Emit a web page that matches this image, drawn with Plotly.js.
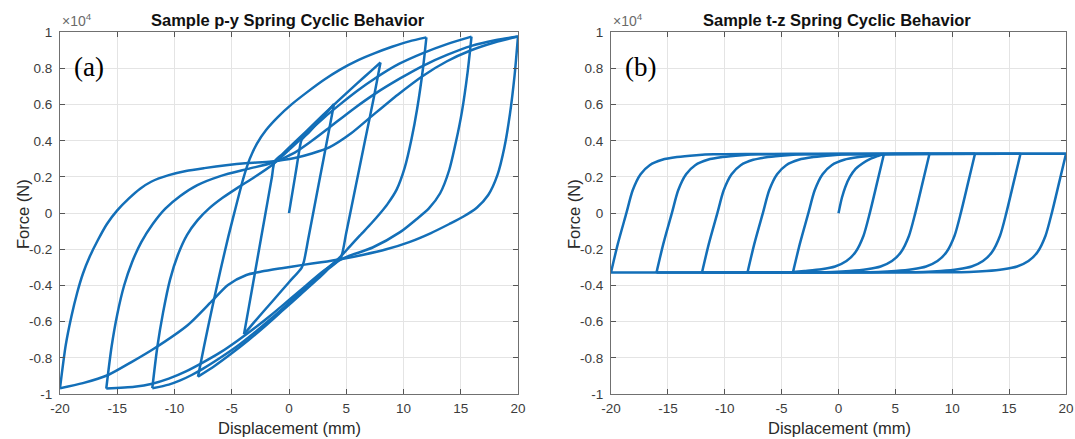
<!DOCTYPE html>
<html>
<head>
<meta charset="utf-8">
<script src="https://cdn.plot.ly/plotly-3.0.1.min.js"></script>
<style>html,body{margin:0;padding:0;background:#fff;}#chart{width:1075px;height:439px;}</style>
</head>
<body>
<div id="chart"></div>
<script>
// ---------- Tick labels ----------
const xTickVals = [-20, -15, -10, -5, 0, 5, 10, 15, 20];
const xTickText = ['-20', '-15', '-10', '-5', '0', '5', '10', '15', '20'];
const yTickVals = [-10000, -8000, -6000, -4000, -2000, 0, 2000, 4000, 6000, 8000, 10000];
const yTickText = ['-1', '-0.8', '-0.6', '-0.4', '-0.2', '0', '0.2', '0.4', '0.6', '0.8', '1'];

// ---------- (a) p-y spring: displacement (mm) / force (N), branch by branch ----------
// 0 -> +4
const py1x = [0, 0.55, 1.0, 1.1, 1.8, 2.6, 3.3, 3.93];
const py1F = [0, 2100, 3820, 4050, 4500, 5080, 5580, 6030];
// +4 -> -4
const py2x = [3.93, 3.5, 2.6, 1.7, 1.3, 1.1, 0, -1.5, -3.0, -3.93];
const py2F = [6030, 4600, 1620, -1360, -2680, -3020, -3820, -4910, -6000, -6700];
// -4 -> +8
const py3x = [-3.93, -3.5, -2.8, -2.1, -1.5, -1.25, -0.6, 0.3, 1.5, 3.0, 4.5, 6.0, 7.2, 7.99];
const py3F = [-6700, -5170, -2670, -170, 1970, 2860, 3250, 3800, 4520, 5440, 6330, 7200, 7880, 8330];
// +8 -> -8
const py4x = [7.99, 7.4, 6.6, 5.8, 5.0, 4.5, 3.5, 2.5, 1.0, -0.5, -2.0, -3.5, -5.0, -6.5, -7.95];
const py4F = [8330, 6370, 3890, 1400, -1080, -2500, -3050, -3650, -4500, -5350, -6200, -7000, -7750, -8450, -9040];
// -8 -> +12
const py5x = [-7.95, -7.4, -6.7, -6.0, -5.3, -4.6, -4.0, -3.43, -2.8, -2.0, -1.0, 0.2, 1.5, 3.0, 4.5, 6.0, 7.5, 9.0, 10.5, 12.0];
const py5F = [-9040, -7300, -5200, -3200, -1300, 450, 1900, 3000, 3850, 4600, 5300, 6000, 6650, 7350, 7950, 8450, 8850, 9200, 9500, 9720];
// +12 -> -12
const py6x = [12.0, 11.7, 11.2, 10.7, 10.1, 9.4, 8.6, 8.0, 7.2, 6.2, 5.3, 4.43, 3.0, 1.5, 0.0, -1.5, -3.0, -4.5, -6.0, -7.5, -8.5, -9.5, -10.5, -11.94];
const py6F = [9720, 8000, 5800, 4100, 2500, 1300, 500, 20, -560, -1230, -1850, -2450, -3250, -4100, -4950, -5800, -6600, -7350, -8000, -8600, -8950, -9250, -9480, -9680];
// -12 -> +16
const py7x = [-11.94, -11.5, -11.0, -10.4, -9.7, -8.9, -8.0, -7.0, -5.8, -4.5, -3.0, -1.5, 0.0, 1.52, 3.0, 4.43, 6.0, 7.63, 9.6, 11.7, 13.8, 15.94];
const py7F = [-9680, -7400, -5500, -3700, -2300, -1200, -400, 250, 850, 1400, 2000, 2650, 3500, 4400, 5250, 6000, 6780, 7500, 8250, 8850, 9350, 9760];
// +16 -> -16
const py8x = [15.94, 15.6, 15.1, 14.6, 14.0, 13.2, 12.2, 11.1, 9.7, 7.3, 4.72, 3.0, 1.5, 0.0, -1.5, -3.0, -4.5, -6.0, -7.5, -9.0, -10.5, -11.94, -13.5, -15.96];
const py8F = [9760, 7800, 5600, 4000, 2400, 1100, 250, -350, -1050, -1900, -2500, -3200, -4000, -4800, -5600, -6350, -7050, -7700, -8250, -8750, -9150, -9430, -9600, -9700];
// -16 -> +20
const py9x = [-15.96, -15.5, -15.0, -14.4, -13.7, -12.9, -11.9, -10.8, -9.5, -8.0, -6.0, -3.58, -1.54, 0.5, 2.0, 3.56, 5.6, 7.63, 9.7, 11.7, 13.8, 15.94, 18.0, 20.0];
const py9F = [-9700, -7400, -5600, -4000, -2700, -1600, -600, 250, 950, 1550, 2050, 2450, 2770, 3350, 4000, 4750, 5750, 6650, 7450, 8150, 8750, 9250, 9560, 9770];
// +20 -> -20
const py10x = [20, 19.7, 19.3, 18.8, 18.2, 17.4, 16.4, 15.2, 14.0, 12.4, 10.5, 8.5, 6.5, 4.5, 2.8, 1.22, -0.5, -2.41, -3.72, -5.33, -6.78, -8.83, -11.74, -13.8, -15.8, -18.0, -20.0];
const py10F = [9770, 7600, 5500, 3600, 2100, 1000, 300, -200, -600, -1100, -1600, -2000, -2300, -2550, -2720, -2860, -3030, -3230, -3420, -3970, -4890, -6180, -7470, -8250, -8950, -9400, -9680];
// -20 -> +20
const py11x = [-20, -19.5, -19.0, -18.5, -18.0, -17.4, -16.7, -15.9, -15.0, -14.0, -13.0, -12.0, -10.5, -9.0, -7.4, -5.5, -3.58, -1.54, 0.5, 2.0, 3.56, 5.4, 7.2, 9.5, 11.72, 13.8, 15.8, 18.0, 20.0];
const py11F = [-9680, -7300, -5700, -4400, -3350, -2400, -1500, -600, 150, 800, 1350, 1750, 2100, 2330, 2490, 2650, 2770, 2860, 3050, 3300, 3650, 4400, 5350, 6550, 7600, 8400, 8980, 9450, 9770];

// ---------- (b) t-z spring: displacement (mm) / force (N) ----------
const tz1x = [0, 0.3, 0.6, 1.0, 1.5, 2.1, 2.8, 3.5, 4.0];
const tz1F = [0, 850, 1450, 2000, 2450, 2750, 3000, 3170, 3280];
const tz2x = [4, 3.4, 2.75, 2.2, 1.5, 0.7, -0.3, -1.5, -3.0, -4.0];
const tz2F = [3280, 1700, 0, -1250, -2150, -2650, -2950, -3100, -3200, -3260];
const tz3x = [-4, -3.4, -2.65, -2.1, -1.4, -0.6, 0.5, 1.8, 3.5, 5.0, 8.0];
const tz3F = [-3260, -1700, 0, 1250, 2150, 2650, 2950, 3100, 3220, 3270, 3280];
const tz4x = [8, 7.4, 6.75, 6.2, 5.5, 4.7, 3.7, 2.5, 1.0, -0.5, -3.0, -8.0];
const tz4F = [3280, 1700, 0, -1250, -2150, -2650, -2950, -3100, -3200, -3250, -3270, -3280];
const tz5x = [-8, -7.4, -6.65, -6.1, -5.4, -4.6, -3.5, -2.2, -0.5, 1.0, 4.0, 12.0];
const tz5F = [-3280, -1700, 0, 1250, 2150, 2650, 2950, 3100, 3200, 3250, 3270, 3280];
const tz6x = [12, 11.4, 10.75, 10.2, 9.5, 8.7, 7.7, 6.5, 5.0, 3.5, 0, -12];
const tz6F = [3280, 1700, 0, -1250, -2150, -2650, -2950, -3100, -3200, -3250, -3270, -3280];
const tz7x = [-12, -11.4, -10.65, -10.1, -9.4, -8.6, -7.5, -6.2, -4.5, -3.0, 0, 16];
const tz7F = [-3280, -1700, 0, 1250, 2150, 2650, 2950, 3100, 3200, 3250, 3270, 3280];
const tz8x = [16, 15.4, 14.75, 14.2, 13.5, 12.7, 11.7, 10.5, 9.0, 7.5, 4, -16];
const tz8F = [3280, 1700, 0, -1250, -2150, -2650, -2950, -3100, -3200, -3250, -3270, -3280];
const tz9x = [-16, -15.4, -14.65, -14.1, -13.4, -12.6, -11.5, -10.2, -8.5, -7.0, -4, 20];
const tz9F = [-3280, -1700, 0, 1250, 2150, 2650, 2950, 3100, 3200, 3250, 3270, 3280];
const tz10x = [20, 19.4, 18.75, 18.2, 17.5, 16.7, 15.7, 14.5, 13.0, 11.5, 8, -20];
const tz10F = [3280, 1700, 0, -1250, -2150, -2650, -2950, -3100, -3200, -3250, -3270, -3280];
const tz11x = [-20, -19.4, -18.65, -18.1, -17.4, -16.6, -15.5, -14.2, -12.5, -11.0, -8, 20];
const tz11F = [-3280, -1700, 0, 1250, 2150, 2650, 2950, 3100, 3200, 3250, 3270, 3280];

const pyBranches = [[py1x, py1F], [py2x, py2F], [py3x, py3F], [py4x, py4F], [py5x, py5F], [py6x, py6F],
                    [py7x, py7F], [py8x, py8F], [py9x, py9F], [py10x, py10F], [py11x, py11F]];
const tzBranches = [[tz1x, tz1F], [tz2x, tz2F], [tz3x, tz3F], [tz4x, tz4F], [tz5x, tz5F], [tz6x, tz6F],
                    [tz7x, tz7F], [tz8x, tz8F], [tz9x, tz9F], [tz10x, tz10F], [tz11x, tz11F]];

const LINE_COLOR = '#136fb8';
function mk(b, xa, ya) {
  return {x: b[0], y: b[1], xaxis: xa, yaxis: ya, type: 'scatter', mode: 'lines',
          line: {color: LINE_COLOR, width: 2.5, shape: 'spline', smoothing: 0.7},
          hoverinfo: 'skip', showlegend: false};
}
const traces = [];
pyBranches.forEach(b => traces.push(mk(b, 'x', 'y')));
tzBranches.forEach(b => traces.push(mk(b, 'x2', 'y2')));

const W = 1075, H = 439;
const px = v => v / W, py = v => 1 - v / H;
const FONT = 'Liberation Sans, Arial, Helvetica, sans-serif';

function xAxis(l, r, anchor) {
  return {domain: [px(l), px(r)], range: [-20, 20], anchor: anchor,
          tickmode: 'array', tickvals: xTickVals, ticktext: xTickText,
          ticks: 'inside', ticklen: 5, tickwidth: 1, tickcolor: '#555',
          showline: true, linecolor: '#707070', linewidth: 1, mirror: 'ticks',
          showgrid: true, gridcolor: '#e4e4e4', gridwidth: 1, zeroline: false,
          tickfont: {family: FONT, size: 13.5, color: '#3c3c3c'}, ticklabelstandoff: 2,
          fixedrange: true};
}
function yAxis(anchor) {
  return {domain: [py(394), py(32.3)], range: [-10000, 10000], anchor: anchor,
          tickmode: 'array', tickvals: yTickVals, ticktext: yTickText,
          ticks: 'inside', ticklen: 5, tickwidth: 1, tickcolor: '#555',
          showline: true, linecolor: '#707070', linewidth: 1, mirror: 'ticks',
          showgrid: true, gridcolor: '#e4e4e4', gridwidth: 1, zeroline: false,
          tickfont: {family: FONT, size: 13.5, color: '#3c3c3c'}, ticklabelstandoff: 4,
          fixedrange: true};
}

function ann(text, x, y, opts) {
  return Object.assign({text: text, x: px(x), y: py(y), xref: 'paper', yref: 'paper',
                        showarrow: false, xanchor: 'center', yanchor: 'middle'}, opts || {});
}

const annotations = [
  ann('<b>Sample p-y Spring Cyclic Behavior</b>', 288, 20, {font: {family: FONT, size: 16.5, color: '#111'}}),
  ann('<b>Sample t-z Spring Cyclic Behavior</b>', 837, 20, {font: {family: FONT, size: 16.5, color: '#111'}}),
  ann('×10<sup>4</sup>', 60, 20, {xanchor: 'left', font: {family: FONT, size: 14, color: '#6a6a6a'}}),
  ann('×10<sup>4</sup>', 611, 20, {xanchor: 'left', font: {family: FONT, size: 14, color: '#6a6a6a'}}),
  ann('Force (N)', 23, 214, {textangle: -90, font: {family: FONT, size: 16.5, color: '#2a2a2a'}}),
  ann('Force (N)', 574, 214, {textangle: -90, font: {family: FONT, size: 16.5, color: '#2a2a2a'}}),
  ann('Displacement (mm)', 289, 428, {font: {family: FONT, size: 16.5, color: '#2a2a2a'}}),
  ann('Displacement (mm)', 839, 428, {font: {family: FONT, size: 16.5, color: '#2a2a2a'}}),
  ann('(a)', 89, 67, {font: {family: 'Liberation Serif, Times New Roman, serif', size: 27, color: '#000'}}),
  ann('(b)', 640, 67, {font: {family: 'Liberation Serif, Times New Roman, serif', size: 27, color: '#000'}})
];

const layout = {
  width: W, height: H, margin: {l: 0, r: 0, t: 0, b: 0},
  paper_bgcolor: '#fff', plot_bgcolor: '#fff', showlegend: false,
  xaxis: xAxis(60, 518, 'y'), yaxis: yAxis('x'),
  xaxis2: xAxis(611, 1066, 'y2'), yaxis2: yAxis('x2'),
  annotations: annotations
};

Plotly.newPlot('chart', traces, layout, {displayModeBar: false, staticPlot: true});
</script>
</body>
</html>
